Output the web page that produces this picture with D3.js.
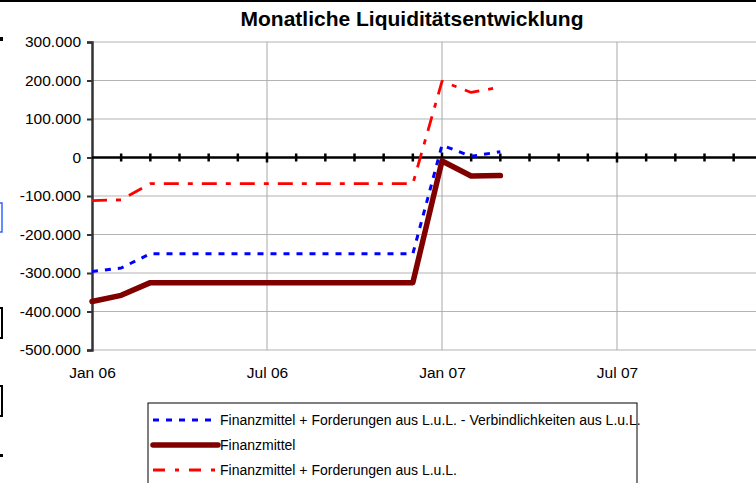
<!DOCTYPE html>
<html>
<head>
<meta charset="utf-8">
<script src="https://cdn.jsdelivr.net/npm/d3@7"></script>
<style>
  body { margin: 0; background: #fff; }
  svg { display: block; }
  svg text { font-family: "Liberation Sans", Arial, sans-serif; }
</style>
</head>
<body>
<div id="chart"></div>
<script>
// month index 0 = Jan 06
var months = [0, 1, 2, 3, 4, 5, 6, 7, 8, 9, 10, 11, 12, 13, 14];
var netto = [-296000, -287000, -250000, -250000, -250000, -250000, -250000, -250000, -250000, -250000, -250000, -250000, 32000, 3000, 15000];
var finanzmittel = [-374000, -358000, -325000, -325000, -325000, -325000, -325000, -325000, -325000, -325000, -325000, -325000, -9000, -48000, -47000];
var forderungen = [-112000, -110000, -68000, -68000, -68000, -68000, -68000, -68000, -68000, -68000, -68000, -68000, 198000, 169000, 183000];
var xTickMonths = [0, 6, 12, 18];
var xTickLabels = ["Jan 06", "Jul 06", "Jan 07", "Jul 07"];
var yTicks = [300000, 200000, 100000, 0, -100000, -200000, -300000, -400000, -500000];
var seriesNames = ["Finanzmittel + Forderungen aus L.u.L. - Verbindlichkeiten aus L.u.L.", "Finanzmittel", "Finanzmittel + Forderungen aus L.u.L."];

var svgWidth = 756;
var svgHeight = 483;
var margin = { left: 92, top: 42 };
var plotBottom = 350;

var svg = d3.select("#chart").append("svg")
  .attr("width", svgWidth)
  .attr("height", svgHeight);

// bits of neighbouring sheet cells on the left edge
svg.append("rect").attr("x", -4).attr("y", 37).attr("width", 7).attr("height", 4).attr("fill", "#000");
svg.append("rect").attr("x", -10).attr("y", 203).attr("width", 12).attr("height", 29)
  .attr("fill", "none").attr("stroke", "#3366ff").attr("stroke-width", 1.5);
svg.append("rect").attr("x", -10).attr("y", 308).attr("width", 12).attr("height", 30)
  .attr("fill", "none").attr("stroke", "#000").attr("stroke-width", 2);
svg.append("rect").attr("x", -10).attr("y", 386).attr("width", 12).attr("height", 30)
  .attr("fill", "none").attr("stroke", "#000").attr("stroke-width", 2);
svg.append("rect").attr("x", 0).attr("y", 454).attr("width", 3).attr("height", 3).attr("fill", "#000");

// top border of chart object
svg.append("line").attr("x1", 0).attr("x2", svgWidth).attr("y1", 1).attr("y2", 1)
  .attr("stroke", "#000").attr("stroke-width", 2);

var x = d3.scaleLinear().domain([0, 24]).range([margin.left, margin.left + 700]);
var y = d3.scaleLinear().domain([-500000, 300000]).range([plotBottom, margin.top]);

var de = d3.formatLocale({ decimal: ",", thousands: ".", grouping: [3], currency: ["", " €"], minus: "-" });
var fmt = de.format(",.0f");

// gridlines
svg.append("g").selectAll("line").data(yTicks).enter().append("line")
  .attr("x1", margin.left).attr("x2", svgWidth)
  .attr("y1", d => y(d)).attr("y2", d => y(d))
  .attr("stroke", "#b4b4b4").attr("stroke-width", 1.2);
svg.append("g").selectAll("line").data(xTickMonths.slice(1)).enter().append("line")
  .attr("x1", d => x(d)).attr("x2", d => x(d))
  .attr("y1", margin.top).attr("y2", plotBottom)
  .attr("stroke", "#a8a8a8").attr("stroke-width", 1);

// y axis
var yAxis = d3.axisLeft(y).tickValues(yTicks).tickFormat(fmt).tickSize(5).tickPadding(6);
var yG = svg.append("g").attr("transform", "translate(" + margin.left + ",0)").call(yAxis);
yG.select(".domain").attr("stroke", "#333").attr("stroke-width", 2.5);
yG.selectAll(".tick line").attr("stroke", "#333").attr("stroke-width", 2);
yG.selectAll("text").attr("font-size", 15.5).attr("fill", "#000");

// x labels at bottom
var xAxis = d3.axisBottom(x).tickValues(xTickMonths).tickFormat((d, i) => xTickLabels[i]).tickSize(0).tickPadding(17);
var xG = svg.append("g").attr("transform", "translate(0," + plotBottom + ")").call(xAxis);
xG.select(".domain").remove();
xG.selectAll("text").attr("font-size", 15.5).attr("fill", "#000");

// zero line with month ticks
svg.append("line").attr("x1", margin.left).attr("x2", svgWidth)
  .attr("y1", y(0)).attr("y2", y(0)).attr("stroke", "#000").attr("stroke-width", 2.5);
svg.append("g").selectAll("line").data(d3.range(1, 25)).enter().append("line")
  .attr("x1", d => x(d)).attr("x2", d => x(d))
  .attr("y1", d => y(0) - (d % 6 === 0 ? 5 : 4))
  .attr("y2", d => y(0) + (d % 6 === 0 ? 5 : 4))
  .attr("stroke", "#000").attr("stroke-width", 2.5);

// series
var styles = [
  { color: "#0000ff", width: 3, dash: "6,7" },
  { color: "#800000", width: 5.5, dash: null },
  { color: "#ff0000", width: 2.8, dash: "15,9,5,9" }
];
var seriesData = [netto, finanzmittel, forderungen];
var line = d3.line().x((d, i) => x(months[i])).y(d => y(d));

[2, 0, 1].forEach(function (k) {
  svg.append("path").datum(seriesData[k])
    .attr("d", line)
    .attr("fill", "none")
    .attr("stroke", styles[k].color)
    .attr("stroke-width", styles[k].width)
    .attr("stroke-dasharray", styles[k].dash)
    .attr("stroke-linecap", k === 1 ? "round" : "butt")
    .attr("stroke-linejoin", "round");
});

// title
svg.append("text").attr("x", 412).attr("y", 26)
  .attr("text-anchor", "middle").attr("font-size", 21).attr("font-weight", "bold")
  .text("Monatliche Liquiditätsentwicklung");

// legend
var legend = svg.append("g");
legend.append("rect").attr("x", 148).attr("y", 403).attr("width", 489).attr("height", 100)
  .attr("fill", "#fff").attr("stroke", "#000").attr("stroke-width", 1);
var rowsY = [420, 445, 470];
seriesNames.forEach(function (name, k) {
  legend.append("line").attr("x1", 153).attr("x2", 218)
    .attr("y1", rowsY[k]).attr("y2", rowsY[k])
    .attr("stroke", styles[k].color).attr("stroke-width", styles[k].width)
    .attr("stroke-dasharray", k === 2 ? "12,10,4,10" : styles[k].dash)
    .attr("stroke-linecap", k === 1 ? "round" : "butt");
  legend.append("text").attr("x", 220).attr("y", rowsY[k] + 5)
    .attr("font-size", 14).text(name);
});
</script>
</body>
</html>
